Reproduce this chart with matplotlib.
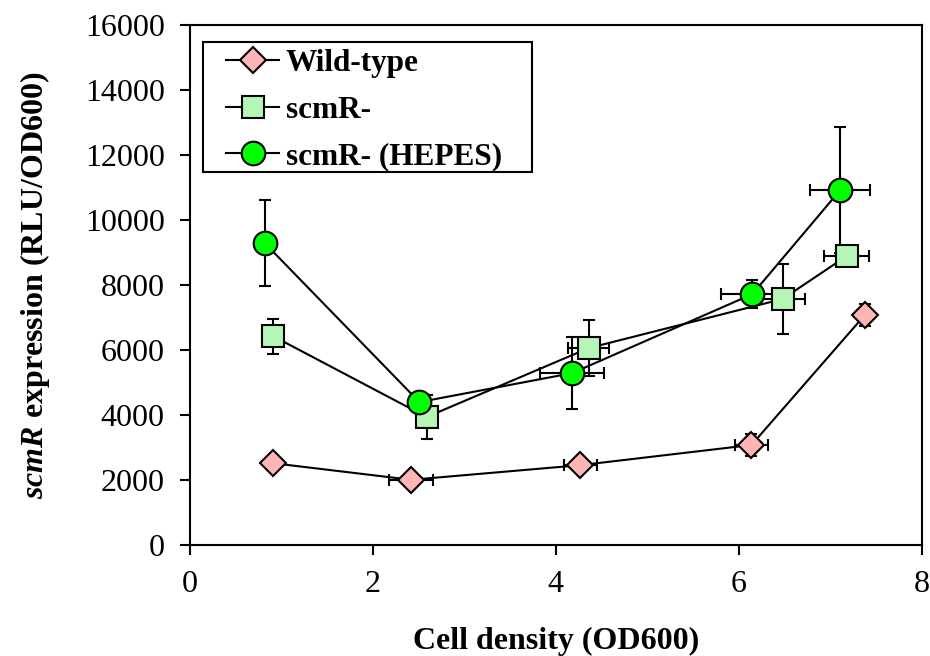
import matplotlib
matplotlib.use("Agg")
import matplotlib.pyplot as plt
from matplotlib.lines import Line2D
from matplotlib.patches import Rectangle

# data
wt_x = [0.91, 2.42, 4.27, 6.14, 7.38]
wt_y = [2520, 2010, 2460, 3080, 7080]
wt_xerr = [0.0, 0.24, 0.18, 0.18, 0.05]
wt_yerr = [0, 0, 0, 340, 330]

mut_x = [0.91, 2.59, 4.36, 6.48, 7.18]
mut_y = [6430, 3940, 6060, 7570, 8890]
mut_xerr = [0.0, 0.05, 0.22, 0.24, 0.25]
mut_yerr = [540, 680, 860, 1090, 200]

hep_x = [0.82, 2.51, 4.18, 6.15, 7.11]
hep_y = [9290, 4400, 5290, 7720, 10920]
hep_xerr = [0.0, 0.1, 0.35, 0.34, 0.33]
hep_yerr = [1320, 150, 1100, 430, 1940]

plt.rcParams["font.family"] = ["Liberation Serif", "DejaVu Serif"]
plt.rcParams["font.size"] = 15
plt.rcParams["mathtext.fontset"] = "custom"
plt.rcParams["mathtext.it"] = "Liberation Serif:italic:bold"
plt.rcParams["mathtext.rm"] = "Liberation Serif:bold"

fig = plt.figure(figsize=(9.3, 6.56), dpi=100)
ax = fig.add_axes([0.204, 0.169, 0.787, 0.793])

common = dict(color="black", ecolor="black", elinewidth=1.5, capsize=4,
              capthick=1.5, lw=1.5, markeredgecolor="black", markeredgewidth=1.5)

styles = [("D", 13, "#FFB5B5", "Wild-type"),
          ("s", 16, "#B5F5B5", "scmR-"),
          ("o", 17, "#00FF00", "scmR- (HEPES)")]

series = [(wt_x, wt_y, wt_xerr, wt_yerr),
          (mut_x, mut_y, mut_xerr, mut_yerr),
          (hep_x, hep_y, hep_xerr, hep_yerr)]

handles = []
for (x, y, xe, ye), (m, ms, fc, lab) in zip(series, styles):
    ax.errorbar(x, y, xerr=xe, yerr=ye, marker=m, ms=ms, markerfacecolor=fc, **common)
    handles.append(Line2D([], [], color="black", lw=1.5, marker=m, ms=ms,
                          markerfacecolor=fc, markeredgecolor="black",
                          markeredgewidth=1.5, label=lab))

ax.set_xlim(0, 8)
ax.set_ylim(0, 16000)
ax.set_xticks([0, 2, 4, 6, 8])
ax.set_yticks(range(0, 16001, 2000))
ax.tick_params(direction="out", length=7, width=1.5, labelsize=23, pad=11)
for s in ax.spines.values():
    s.set_linewidth(1.5)

ax.set_xlabel("Cell density (OD600)", fontsize=23, fontweight="bold", labelpad=20)
ax.set_ylabel(r"$\mathit{scmR}$ expression (RLU/OD600)", fontsize=23,
              fontweight="bold", labelpad=24)

# legend box drawn separately so the side padding can be wider than the top/bottom
ax.add_patch(Rectangle((0.018, 0.717), 0.449, 0.25, transform=ax.transAxes,
                       facecolor="white", edgecolor="black", lw=1.5, zorder=4))
leg = ax.legend(handles=handles, loc="upper left",
                prop={"weight": "bold", "size": 22.5},
                frameon=False, handlelength=1.7, handletextpad=0.2,
                borderpad=0, labelspacing=0.56, borderaxespad=0,
                bbox_to_anchor=(0.05, 0.953))
leg.set_zorder(5)

fig.savefig("out.png", dpi=100)
